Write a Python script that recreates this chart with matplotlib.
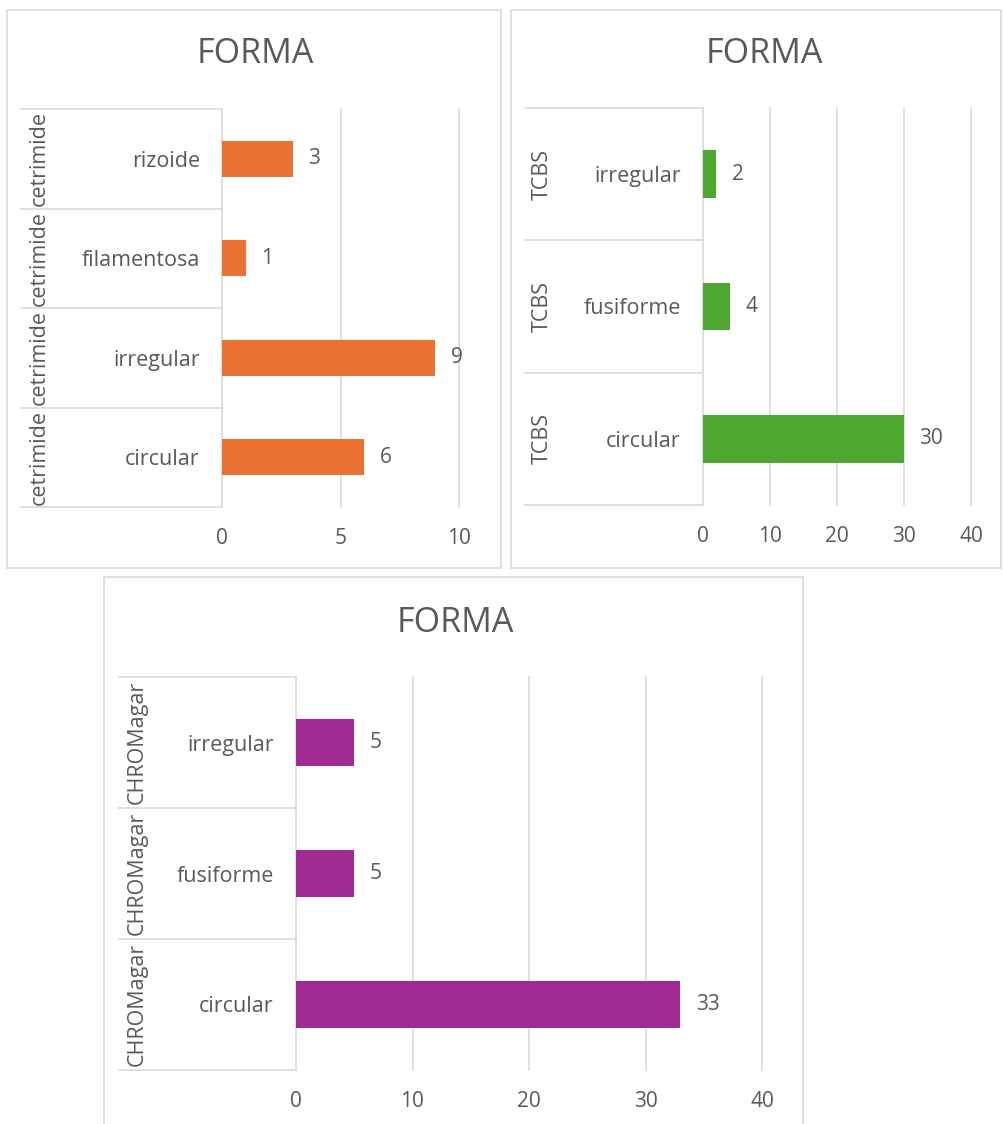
import matplotlib
matplotlib.use("Agg")
import matplotlib.pyplot as plt
from matplotlib.patches import Rectangle
from matplotlib.lines import Line2D

plt.rcParams['font.family'] = ['Open Sans', 'DejaVu Sans']

W, H = 1004, 1124
TEXT = '#595959'
GRID = '#D9D9D9'

# ---- data ----
title = "FORMA"
cat1 = ["circular", "irregular", "filamentosa", "rizoide"]
val1 = [6, 9, 1, 3]
group1 = "cetrimide"
ticks1 = [0, 5, 10]

cat2 = ["circular", "fusiforme", "irregular"]
val2 = [30, 4, 2]
group2 = "TCBS"
ticks2 = [0, 10, 20, 30, 40]

cat3 = ["circular", "fusiforme", "irregular"]
val3 = [33, 5, 5]
group3 = "CHROMagar"
ticks3 = [0, 10, 20, 30, 40]

colors = ['#E97132', '#4EA72E', '#A02B93']

fig = plt.figure(figsize=(W / 100, H / 100), dpi=100)


def fx(x):
    return x / W


def fy(y):
    return 1 - y / H


def panel(box, plot, sep_left, lab_x, cats, vals, group, ticks, color,
          title_x, title_y):
    x0, y0, x1, y1 = box
    fig.patches.append(Rectangle((fx(x0), fy(y1)), (x1 - x0) / W, (y1 - y0) / H,
                                 transform=fig.transFigure, fill=False,
                                 edgecolor=GRID, linewidth=1.2, zorder=0))
    fig.text(fx(title_x), fy(title_y), title, ha='center', va='center',
             fontsize=24.5, color=TEXT)
    l, t, r, b = plot
    ax = fig.add_axes([fx(l), fy(b), (r - l) / W, (b - t) / H])
    n = len(cats)
    ypos = list(range(n))
    ax.barh(ypos, vals, height=0.36, color=color, zorder=3)
    for yy, v in zip(ypos, vals):
        ax.annotate(str(v), (v, yy), xytext=(11, 0), textcoords='offset points',
                    ha='left', va='center', fontsize=15, color=TEXT)
    ax.set_xlim(ticks[0], ticks[-1])
    ax.set_ylim(-0.5, n - 0.5)
    ax.set_xticks(ticks)
    ax.set_xticklabels([str(tk) for tk in ticks])
    ax.set_yticks(ypos)
    ax.set_yticklabels(cats)
    ax.tick_params(axis='both', length=0, colors=TEXT)
    ax.tick_params(axis='x', labelsize=15, pad=15)
    ax.tick_params(axis='y', labelsize=15.5, pad=16)
    for s in ax.spines.values():
        s.set_visible(False)
    for tk in ticks:
        ax.axvline(tk, color=GRID, linewidth=1.2, zorder=1, clip_on=False)
    # separators in category label area
    frac = (l - sep_left) / (r - l)
    trans = ax.get_yaxis_transform()
    for k in range(n + 1):
        yb = k - 0.5
        ax.add_line(Line2D([-frac, 0], [yb, yb], transform=trans, color=GRID,
                           linewidth=1.2, clip_on=False))
    lx = -(l - lab_x) / (r - l)
    for yy in ypos:
        ax.text(lx, yy, group, transform=trans, rotation=90, ha='center',
                va='center', fontsize=15.5, color=TEXT, clip_on=False)
    return ax


panel((7, 10, 501, 568), (222, 109, 459, 507), 21, 39, cat1, val1, group1,
      ticks1, colors[0], 255, 54)
panel((511, 10, 1001, 568), (703, 108, 971, 505), 525, 542, cat2, val2, group2,
      ticks2, colors[1], 764, 54)
panel((104, 577, 803, 1130), (296, 677, 762, 1070), 119, 137, cat3, val3, group3,
      ticks3, colors[2], 455, 623)

fig.savefig('out.png', dpi=100, facecolor='white')
